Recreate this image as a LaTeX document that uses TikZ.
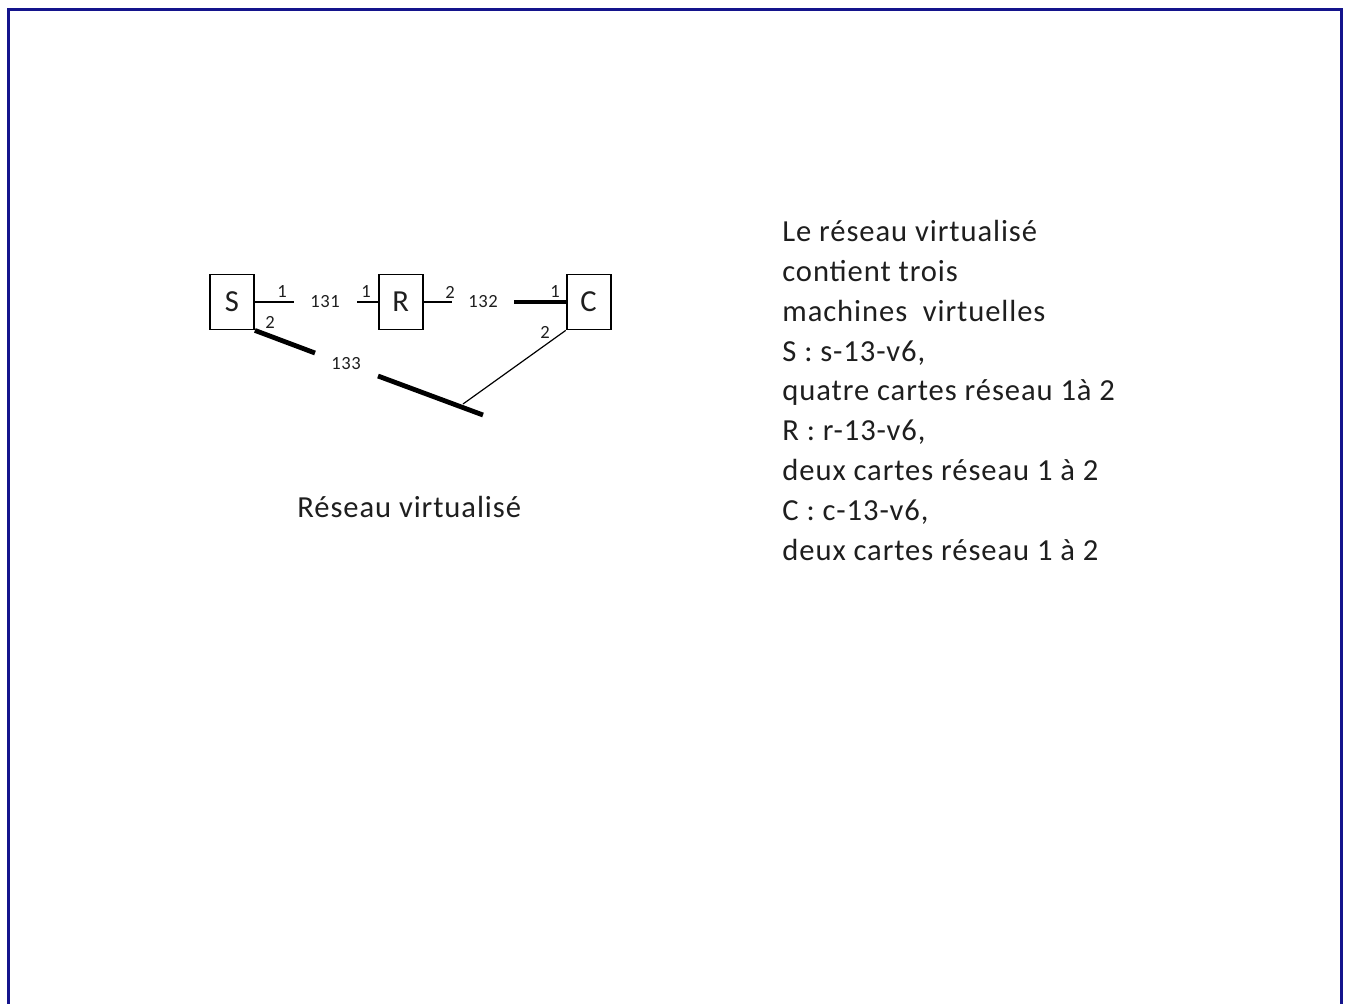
\documentclass[tikz,border=0pt]{standalone}
\usepackage{fontspec}
\setmainfont{Carlito}[LetterSpace=3]
\usetikzlibrary{positioning}
\definecolor{frameBlue}{RGB}{20,20,140}
\definecolor{textGray}{RGB}{30,30,30}

\begin{document}
\begin{tikzpicture}[x=0.5pt, y=-0.5pt,
  font=\fontsize{15.3}{19.9}\selectfont, text=textGray,
  machine/.style={rectangle, draw, line width=0.9pt, minimum width=22pt,
    minimum height=27.5pt, inner sep=0pt},
  port/.style={font=\fontsize{9.3}{10}\selectfont, inner sep=1pt},
  stub/.style={line width=1.4pt},
  bus/.style={line width=2.4pt},
  wire/.style={line width=0.6pt}]
  \useasboundingbox (0,0) rectangle (1346,1003);
  % cadre
  \draw[frameBlue, line width=1.5pt] (8,1010) -- (8,9) -- (1341,9) -- (1341,1010);

  % machines virtuelles
  \node[machine] (S) at (232,302) {S};
  \node[machine, right=61.5pt of S] (R) {R};
  \node[machine, right=71pt of R]   (C) {C};

  % extremites des cartes
  \coordinate (s1) at (294,302);
  \coordinate (r1) at (357,302);
  \coordinate (r2) at (452,302);
  \coordinate (c1) at (514,302);
  \coordinate (b0) at (315,353);
  \coordinate (b1) at (378,376);
  \coordinate (b2) at (483,415);
  \coordinate (bc) at (463,404);

  % reseaux 131, 132
  \draw[stub] (S) -- (s1);
  \draw[stub] (r1) -- (R);
  \draw[stub] (R) -- (r2);
  \draw[stub, line width=1.8pt] (c1) -- (C);
  % reseau 133
  \draw[bus] (S.south east) -- (b0);
  \draw[bus] (b1) -- (b2);
  \draw[wire] (C.south west) -- (bc);

  \node[port] (n131) at (325,302) {131};
  \node[port] (n132) at (483,302) {132};
  \node[port] (n133) at (346,364) {133};

  \node[port] (pS1) at (282,292) {1};
  \node[port] (pS2) at (270,322) {2};
  \node[port] (pR1) at (366,292) {1};
  \node[port] (pR2) at (450,292) {2};
  \node[port] (pC1) at (555,292) {1};
  \node[port] (pC2) at (545,332) {2};

  \node[anchor=base west, inner sep=0pt] (caption) at (297,517) {Réseau virtualisé};
  \node[anchor=base west, align=left, inner sep=0pt] (desc) at (782,560)
    {Le réseau virtualisé\\contient trois\\machines\ \ virtuelles\\S : s-13-v6,\\
     quatre cartes réseau 1à 2\\R : r-13-v6,\\deux cartes réseau 1 à 2\\
     C : c-13-v6,\\deux cartes réseau 1 à 2};
\end{tikzpicture}
\end{document}
